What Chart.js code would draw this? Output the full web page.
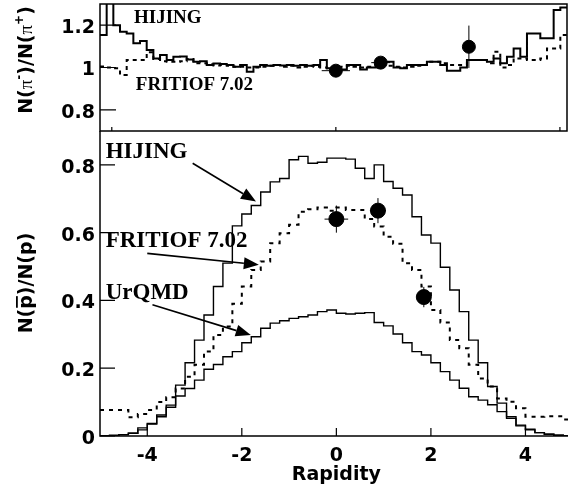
<!DOCTYPE html>
<html lang="en">
<head>
<meta charset="UTF-8">
<title>pbar/p and pi-/pi+ ratios vs rapidity</title>
<script src="https://cdn.jsdelivr.net/npm/chart.js@4.4.1/dist/chart.umd.min.js"></script>
<style>
    body{ margin:0; background:#fff; }
    #wrap{ position:relative; width:568px; height:495px; }
    #wrap canvas{ position:absolute; left:0; top:0; }
</style>
</head>
<body>
<div id="wrap">
    <canvas id="piChart" width="568" height="495"></canvas>
    <canvas id="pbarChart" width="568" height="495"></canvas>
</div>

<script>
// rapidity axis
var rapMin = -5, rapMax = 4.9;
var rapTicks = [-4, -2, 0, 2, 4];

// lower panel: N(pbar)/N(p), histograms in 0.2 wide rapidity bins from -5
var pbarBinStart = -5, pbarBinWidth = 0.2;
var hijingPbar = [0.000, 0.001, 0.004, 0.008, 0.024, 0.035, 0.057, 0.085, 0.150, 0.216,
                  0.283, 0.357, 0.441, 0.510, 0.620, 0.655, 0.680, 0.720, 0.750, 0.760,
                  0.815, 0.825, 0.805, 0.808, 0.820, 0.820, 0.817, 0.790, 0.760, 0.800,
                  0.751, 0.731, 0.711, 0.647, 0.593, 0.569, 0.498, 0.431, 0.367, 0.283,
                  0.216, 0.146, 0.097, 0.057, 0.032, 0.020, 0.010, 0.005, 0.002, 0.001];
var fritiofPbar = [0.077, 0.077, 0.077, 0.055, 0.065, 0.077, 0.100, 0.114, 0.140, 0.175,
                   0.210, 0.249, 0.298, 0.323, 0.390, 0.441, 0.490, 0.515, 0.569, 0.598,
                   0.623, 0.662, 0.669, 0.674, 0.665, 0.674, 0.667, 0.667, 0.640, 0.618,
                   0.588, 0.567, 0.510, 0.490, 0.441, 0.372, 0.335, 0.283, 0.259, 0.210,
                   0.170, 0.146, 0.111, 0.101, 0.082, 0.057, 0.057, 0.058, 0.058, 0.049];
var urqmdPbar = [0.001, 0.002, 0.004, 0.008, 0.018, 0.037, 0.062, 0.091, 0.118, 0.140,
                 0.165, 0.197, 0.211, 0.234, 0.249, 0.275, 0.293, 0.318, 0.333, 0.340,
                 0.347, 0.352, 0.357, 0.367, 0.372, 0.362, 0.360, 0.362, 0.364, 0.335,
                 0.325, 0.301, 0.275, 0.249, 0.239, 0.216, 0.190, 0.165, 0.141, 0.116,
                 0.106, 0.092, 0.072, 0.052, 0.030, 0.018, 0.010, 0.005, 0.002, 0.001];
var measPbarY = [0, 0.88, 1.85];
var measPbarR = [0.64, 0.665, 0.41];
var measPbarErr = [0.04, 0.037, 0.03];
var measPbarYErr = [0.25, 0.17, 0.15];
var pbarTicks = [0, 0.2, 0.4, 0.6, 0.8];

// upper panel: N(pi-)/N(pi+), 70 bins across the shown rapidity range
var piBinStart = -5, piBinWidth = 9.9 / 70;
var hijingPi = [1.153, 1.320, 1.200, 1.169, 1.161, 1.114, 1.125, 1.083, 1.043, 1.059,
                1.035, 1.051, 1.052, 1.038, 1.027, 1.030, 1.012, 1.019, 1.017, 1.012,
                1.004, 1.012, 0.980, 1.004, 1.012, 1.008, 1.012, 1.010, 1.012, 1.008,
                1.012, 1.008, 1.012, 1.035, 0.996, 0.990, 0.990, 1.012, 1.012, 0.990,
                1.000, 1.000, 1.027, 1.027, 1.000, 0.996, 1.012, 1.012, 1.012, 1.027,
                1.027, 1.012, 0.985, 0.985, 1.000, 1.035, 1.035, 1.035, 1.027, 1.043,
                1.020, 1.051, 1.090, 1.051, 1.161, 1.161, 1.138, 1.138, 1.272, 1.284];
var fritiofPi = [1.005, 1.000, 0.996, 0.965, 1.035, 1.035, 1.035, 1.072, 1.040, 1.030,
                 1.027, 1.027, 1.030, 1.040, 1.020, 1.020, 1.015, 1.010, 1.012, 1.008,
                 1.004, 1.004, 1.000, 1.000, 1.004, 1.008, 1.012, 1.004, 1.008, 1.000,
                 1.004, 1.008, 1.004, 1.000, 0.996, 1.000, 1.004, 1.008, 1.004, 1.000,
                 1.004, 1.008, 1.012, 1.008, 1.004, 1.000, 1.004, 1.008, 1.012, 1.027,
                 1.027, 1.020, 1.012, 1.012, 1.012, 1.035, 1.035, 1.035, 1.020, 1.075,
                 1.000, 1.012, 1.043, 1.043, 1.035, 1.035, 1.043, 1.090, 1.090, 1.153];
var measPiY = [0, 0.95, 2.82];
var measPiR = [0.985, 1.023, 1.098];
var measPiErr = [0.008, 0.008, 0.1];
var measPiYErr = [0.3, 0.2, 0];
var piTicks = [0.8, 1, 1.2];
var piMinorX = [-4.75, 0, 4.75];

// model labels with arrows (data coordinates)
var pbarNotes = [
    { text: 'HIJING',       x: -4.88, y: 0.839, from: [-3.04, 0.805], to: [-1.70, 0.692] },
    { text: 'FRITIOF 7.02', x: -4.88, y: 0.574, from: [-4.00, 0.539], to: [-1.64, 0.505] },
    { text: 'UrQMD',        x: -4.88, y: 0.422, from: [-3.89, 0.387], to: [-1.81, 0.298] }
];
var piNotes = [
    { text: 'HIJING',       x: -4.28, y: 1.234 },
    { text: 'FRITIOF 7.02', x: -4.24, y: 0.917 }
];

var sans = "'DejaVu Sans', sans-serif";
var serif = "'Liberation Serif', 'Times New Roman', serif";

function steps(start, width, vals) {
    var pts = vals.map(function (v, i) { return { x: start + i * width, y: v }; });
    pts.push({ x: start + vals.length * width, y: vals[vals.length - 1] });
    return pts;
}
function points(xs, ys) {
    return xs.map(function (x, i) { return { x: x, y: ys[i] }; });
}
function histo(label, pts, w, dash) {
    return { type: 'line', label: label, data: pts, stepped: 'before', borderColor: '#000',
             borderWidth: w, borderDash: dash || [], pointRadius: 0, fill: false };
}

function arrow(ctx, x1, y1, x2, y2) {
    var a = Math.atan2(y2 - y1, x2 - x1), L = 15, W = 6;
    var bx = x2 - L * Math.cos(a), by = y2 - L * Math.sin(a);
    ctx.beginPath(); ctx.moveTo(x1, y1); ctx.lineTo(bx, by); ctx.stroke();
    ctx.beginPath();
    ctx.moveTo(x2, y2);
    ctx.lineTo(bx + W * Math.sin(a), by - W * Math.cos(a));
    ctx.lineTo(bx - W * Math.sin(a), by + W * Math.cos(a));
    ctx.closePath(); ctx.fill();
}

// draws rotated title from pieces [text, font, raise, overline]
function vtitle(ctx, cx, cy, pieces) {
    ctx.save();
    ctx.translate(cx, cy);
    ctx.rotate(-Math.PI / 2);
    ctx.textBaseline = 'middle';
    ctx.textAlign = 'left';
    var total = 0;
    pieces.forEach(function (p) { ctx.font = p[1]; p.w = ctx.measureText(p[0]).width; total += p.w; });
    var x = -total / 2;
    pieces.forEach(function (p) {
        ctx.font = p[1];
        ctx.fillText(p[0], x, -(p[2] || 0));
        if (p[3]) {
            ctx.fillRect(x + 1, -11, p.w - 2, 1.8);
        }
        x += p.w;
    });
    ctx.restore();
}

var decor = {
    id: 'decor',
    afterDatasetsDraw: function (chart, args, o) {
        var ctx = chart.ctx, a = chart.chartArea, xs = chart.scales.x, ys = chart.scales.y;
        ctx.save();
        ctx.strokeStyle = '#000'; ctx.fillStyle = '#000';
        ctx.lineWidth = 1.5;
        // frame
        ctx.beginPath();
        if (o.box) {
            ctx.rect(a.left, a.top, a.right - a.left, a.bottom - a.top);
        } else {
            ctx.moveTo(a.left, a.top); ctx.lineTo(a.left, a.bottom); ctx.lineTo(a.right, a.bottom);
        }
        ctx.stroke();
        // inward ticks
        ctx.lineWidth = 1.2;
        ctx.beginPath();
        o.yTicks.forEach(function (v) {
            var py = ys.getPixelForValue(v);
            ctx.moveTo(a.left, py); ctx.lineTo(a.left + o.yLen, py);
        });
        o.xTicks.forEach(function (v) {
            var px = xs.getPixelForValue(v);
            ctx.moveTo(px, a.bottom); ctx.lineTo(px, a.bottom - o.xLen);
        });
        ctx.stroke();
        // error bars on measured points
        ctx.lineWidth = 1;
        ctx.beginPath();
        o.err.forEach(function (e, i) {
            var px = xs.getPixelForValue(o.mx[i]), py = ys.getPixelForValue(o.my[i]);
            ctx.moveTo(px, ys.getPixelForValue(o.my[i] - e)); ctx.lineTo(px, ys.getPixelForValue(o.my[i] + e));
            if (o.xerr[i]) {
                ctx.moveTo(xs.getPixelForValue(o.mx[i] - o.xerr[i]), py);
                ctx.lineTo(xs.getPixelForValue(o.mx[i] + o.xerr[i]), py);
            }
        });
        ctx.stroke();
        // model labels and arrows
        ctx.textBaseline = 'middle'; ctx.textAlign = 'left';
        ctx.font = 'bold ' + o.noteSize + 'px ' + serif;
        ctx.lineWidth = 1.6;
        o.notes.forEach(function (n) {
            ctx.fillText(n.text, xs.getPixelForValue(n.x), ys.getPixelForValue(n.y));
            if (n.from) {
                arrow(ctx, xs.getPixelForValue(n.from[0]), ys.getPixelForValue(n.from[1]),
                      xs.getPixelForValue(n.to[0]), ys.getPixelForValue(n.to[1]));
            }
        });
        ctx.restore();
    },
    afterDraw: function (chart, args, o) {
        var ctx = chart.ctx;
        ctx.save();
        ctx.fillStyle = '#000';
        o.title(ctx, chart);
        ctx.restore();
    }
};

function fixScale(size) {
    return function (s) {
        if (s.isHorizontal()) s.height = size; else s.width = size;
        s.paddingTop = 0; s.paddingBottom = 0; s.paddingLeft = 0; s.paddingRight = 0;
    };
}
function plainLabel(v) { return String(v); }

var tickFont = { family: sans, size: 19, weight: 'bold' };

// upper panel
new Chart(document.getElementById('piChart'), {
    type: 'scatter',
    data: {
        datasets: [
            { type: 'scatter', label: 'data', data: points(measPiY, measPiR), backgroundColor: '#000',
              borderColor: '#000', pointRadius: 6.5, pointHoverRadius: 6.5 },
            histo('HIJING', steps(piBinStart, piBinWidth, hijingPi), 2),
            histo('FRITIOF 7.02', steps(piBinStart, piBinWidth, fritiofPi), 2, [4, 4])
        ]
    },
    plugins: [decor],
    options: {
        responsive: false, animation: false, events: [],
        layout: { autoPadding: false, padding: { top: 4, right: 1, left: 0, bottom: 0 } },
        scales: {
            x: { type: 'linear', min: rapMin, max: rapMax, grid: { display: false, drawTicks: false },
                 border: { display: false }, ticks: { display: false }, afterFit: fixScale(364) },
            y: { type: 'linear', min: 0.7, max: 1.3, grid: { display: false, drawTicks: false },
                 border: { display: false },
                 afterBuildTicks: function (s) { s.ticks = piTicks.map(function (v) { return { value: v }; }); },
                 ticks: { font: tickFont, color: '#000', padding: 5, labelOffset: 3, callback: plainLabel },
                 afterFit: fixScale(100) }
        },
        plugins: {
            legend: { display: false }, tooltip: { enabled: false },
            decor: {
                box: true, yTicks: piTicks, xTicks: piMinorX, yLen: 16, xLen: 4,
                mx: measPiY, my: measPiR, err: measPiErr, xerr: measPiYErr,
                notes: piNotes, noteSize: 19,
                title: function (ctx) {
                    var b = 'bold 19px ' + sans, s = 'bold 12px ' + sans, g = '19px ' + serif;
                    vtitle(ctx, 27, 60, [['N(', b], ['\u03c0', g], ['-', s, 7], [')/N(', b],
                                         ['\u03c0', g], ['+', s, 7], [')', b]]);
                }
            }
        }
    }
});

// lower panel
new Chart(document.getElementById('pbarChart'), {
    type: 'scatter',
    data: {
        datasets: [
            { type: 'scatter', label: 'data', data: points(measPbarY, measPbarR), backgroundColor: '#000',
              borderColor: '#000', pointRadius: 7.5, pointHoverRadius: 7.5 },
            histo('HIJING', steps(pbarBinStart, pbarBinWidth, hijingPbar), 1.4),
            histo('FRITIOF 7.02', steps(pbarBinStart, pbarBinWidth, fritiofPbar), 2, [4, 5]),
            histo('UrQMD', steps(pbarBinStart, pbarBinWidth, urqmdPbar), 1.4)
        ]
    },
    plugins: [decor],
    options: {
        responsive: false, animation: false, events: [],
        layout: { autoPadding: false, padding: { top: 131, right: 0, left: 0, bottom: 0 } },
        scales: {
            x: { type: 'linear', min: rapMin, max: rapMax, grid: { display: false, drawTicks: false },
                 border: { display: false },
                 afterBuildTicks: function (s) { s.ticks = rapTicks.map(function (v) { return { value: v }; }); },
                 ticks: { font: tickFont, color: '#000', padding: 9, maxRotation: 0, callback: plainLabel },
                 afterFit: fixScale(59) },
            y: { type: 'linear', min: 0, max: 0.9, grid: { display: false, drawTicks: false },
                 border: { display: false },
                 afterBuildTicks: function (s) { s.ticks = pbarTicks.map(function (v) { return { value: v }; }); },
                 ticks: { font: tickFont, color: '#000', padding: 5, labelOffset: 3, callback: plainLabel },
                 afterFit: fixScale(100) }
        },
        plugins: {
            legend: { display: false }, tooltip: { enabled: false },
            decor: {
                box: false, yTicks: pbarTicks, xTicks: rapTicks, yLen: 15, xLen: 8,
                mx: measPbarY, my: measPbarR, err: measPbarErr, xerr: measPbarYErr,
                notes: pbarNotes, noteSize: 23,
                title: function (ctx, chart) {
                    var b = 'bold 19px ' + sans;
                    vtitle(ctx, 27, 283, [['N(', b], ['p', b, 0, true], [')/N(p)', b]]);
                    ctx.font = b; ctx.textAlign = 'center'; ctx.textBaseline = 'middle';
                    ctx.fillText('Rapidity', chart.scales.x.getPixelForValue(0), 475);
                }
            }
        }
    }
});
</script>
</body>
</html>
